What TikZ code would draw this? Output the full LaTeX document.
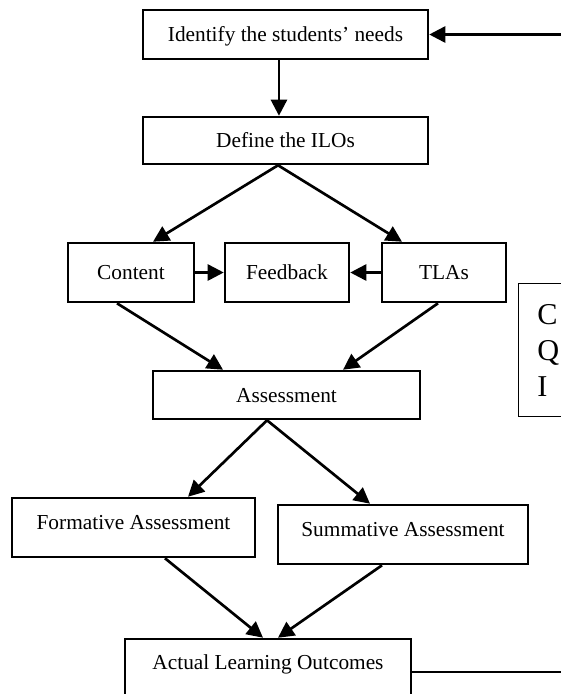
\documentclass[tikz,border=0pt]{standalone}
\usepackage{fontspec}
\setmainfont{Liberation Serif}
\usetikzlibrary{arrows.meta}

\begin{document}
\begin{tikzpicture}[x=0.75pt, y=-0.75pt,
    box/.style={draw, line width=1.9pt, fill=white, inner sep=0pt,
        font=\fontsize{16}{19}\selectfont, text height=11.5pt, text depth=1pt},
    flow/.style={-{Triangle[length=12pt, width=12pt]}, line width=2pt}]
    \useasboundingbox (0,0) rectangle (561,694);
    \clip (0,0) rectangle (561,694);

    \node[box, minimum width=213.75pt, minimum height=36.75pt] (need) at (285.5,34.5) {Identify the students’ needs};
    \node[box, minimum width=213.75pt, minimum height=35.25pt] (ilo) at (285.5,140.5) {Define the ILOs};
    \node[box, minimum width=94.5pt, minimum height=44.25pt] (content) at (131,272.5) {Content};
    \node[box, minimum width=93pt, minimum height=44.25pt] (feedback) at (287,272.5) {Feedback};
    \node[box, minimum width=93pt, minimum height=44.25pt] (tlas) at (444,272.5) {TLAs};
    \node[draw, line width=1.1pt, anchor=north west, text width=40pt, align=left,
        minimum height=99.75pt, inner xsep=14pt,
        font=\fontsize{22.7}{27}\selectfont] (cqi) at (518,283) {C\\Q\\I};
    \node[box, minimum width=200.25pt, minimum height=36pt] (assess) at (286.5,395) {Assessment};
    \node[box, minimum width=182.25pt, minimum height=44.25pt, text depth=8.3pt] (formative) at (133.5,527.5) {Formative Assessment};
    \node[box, minimum width=187.5pt, minimum height=44.25pt, text depth=8.3pt] (summative) at (403,534.5) {Summative Assessment};
    \node[box, minimum width=214.5pt, minimum height=49.5pt, text depth=15pt] (alo) at (268,672) {Actual Learning Outcomes};

    \draw[flow] ([xshift=-4.9pt]need.south) -- ([xshift=-4.9pt]ilo.north);
    \draw[flow] ([xshift=-5.6pt]ilo.south) -- ([xshift=16.5pt]content.north);
    \draw[flow] ([xshift=-5.6pt]ilo.south) -- ([xshift=-31.5pt]tlas.north);
    \draw[flow] (content.east) -- (feedback.west);
    \draw[flow] (tlas.west) -- (feedback.east);
    \draw[flow] ([xshift=-10.5pt]content.south) -- ([xshift=-47.6pt]assess.north);
    \draw[flow] ([xshift=-4.5pt]tlas.south) -- ([xshift=42.4pt]assess.north);
    \draw[flow] ([xshift=-14.6pt]assess.south) -- ([xshift=40.9pt]formative.north);
    \draw[flow] ([xshift=-14.6pt]assess.south) -- ([xshift=-24.75pt]summative.north);
    \draw[flow] ([xshift=23.6pt]formative.south) -- ([xshift=-3.75pt]alo.north);
    \draw[flow] ([xshift=-15.75pt]summative.south) -- ([xshift=7.5pt]alo.north);

    % loop back to the top, runs off the right edge
    \coordinate (loopB) at (580,672);
    \coordinate (loopT) at (580,34.5);
    \draw[flow] (alo.east) -- (loopB) -- (loopT) -- (need.east);
\end{tikzpicture}
\end{document}
